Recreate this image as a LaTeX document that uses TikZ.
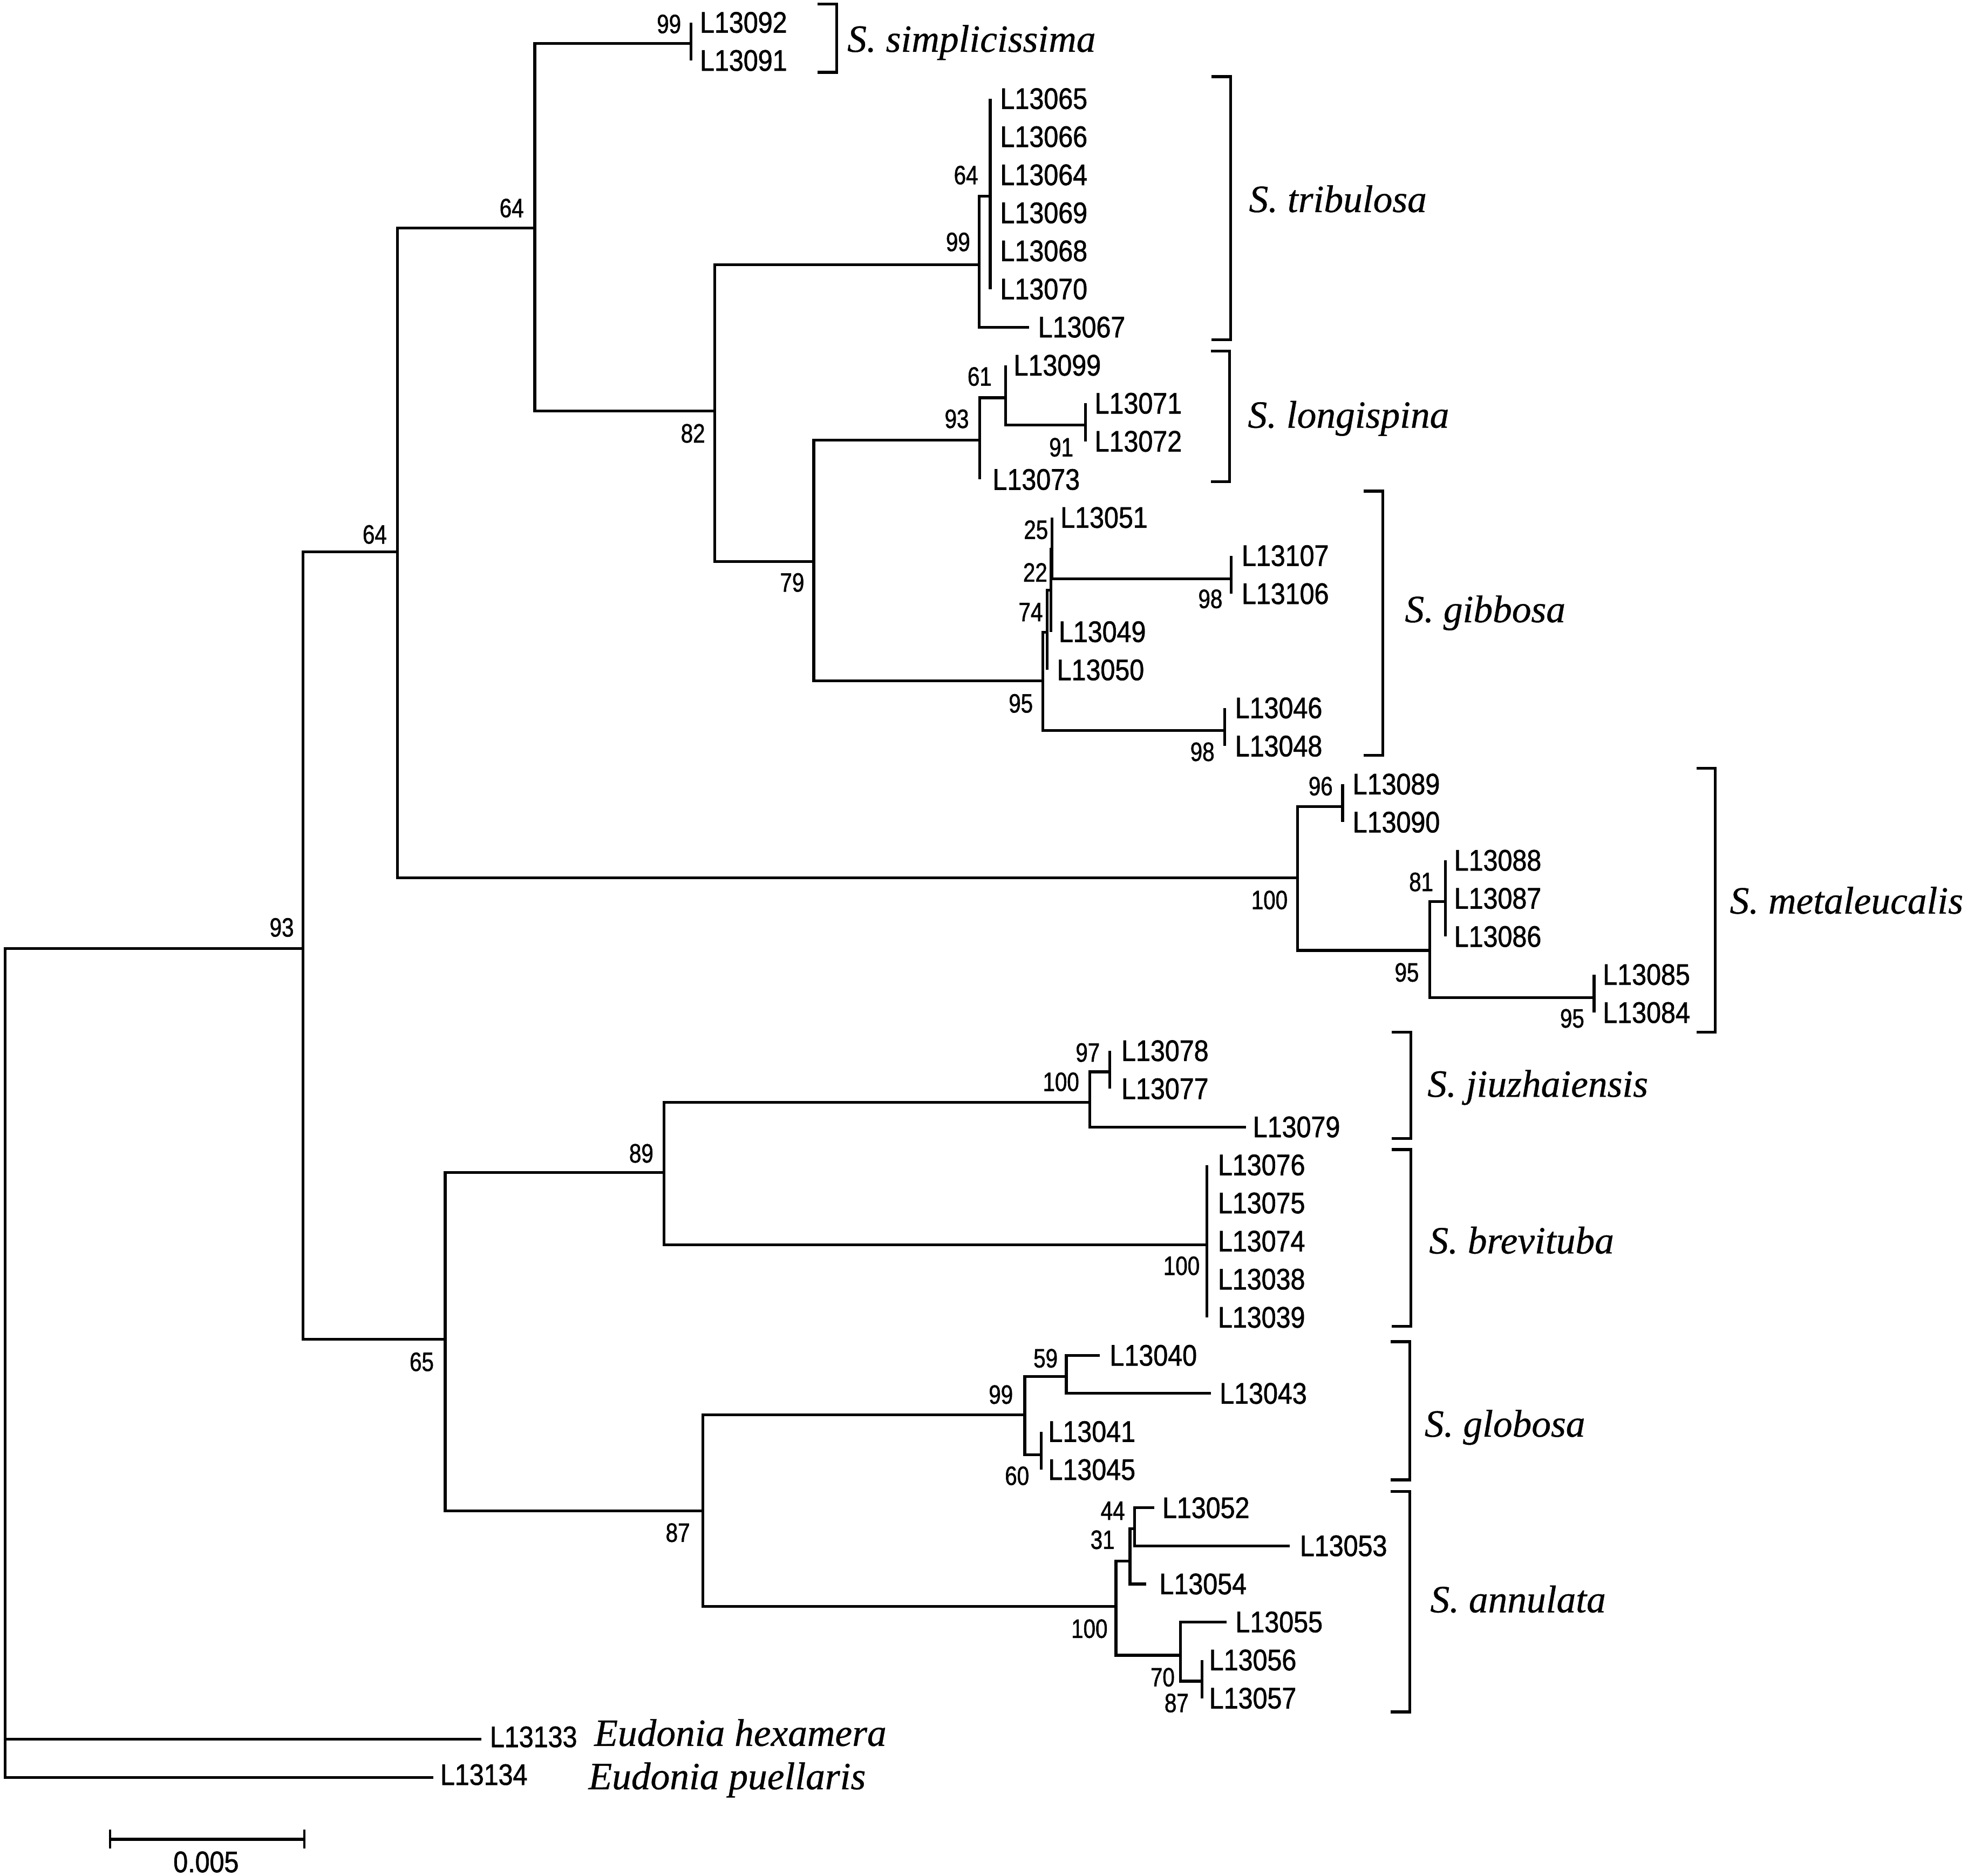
\documentclass[tikz,border=0pt]{standalone}
\usepackage{fontspec}
\newfontfamily\labfam[FakeStretch=0.88,FakeBold=1.2]{Liberation Sans}
\newfontfamily\bootfam[FakeStretch=0.82,FakeBold=1.2]{Liberation Sans}
\newfontfamily\spfam[FakeBold=0.6]{Liberation Serif}
\newcommand\fLeaf{\labfam\fontsize{23.5}{24}\selectfont}
\newcommand\fBoot{\bootfam\fontsize{21}{22}\selectfont}
\newcommand\fSp{\spfam\itshape\fontsize{30.5}{32}\selectfont}
\tikzset{
  edge/.style={line width=2.2pt, line join=miter},
  clade/.style={line width=2.3pt},
  leaflab/.style={anchor=west, inner sep=0pt, xshift=-1.5pt, font=\fLeaf},
  boot/.style={inner sep=0pt, font=\fBoot},
  sp/.style={anchor=base west, inner sep=0pt, font=\fSp}
}
\newcommand\mkleaf[4]{\coordinate (#1) at (#2,#3); \node[leaflab] (t#1) at (#4,#3) {#1};}
\newcommand\brk[3]{\draw[clade] ({#1-15},#2) -- (#1,#2) -- (#1,#3) -- ({#1-15},#3);}
\begin{document}
\begin{tikzpicture}[x=1pt,y=-1pt]
\useasboundingbox (0,0) rectangle (1568,1484.7);
% internal nodes
\coordinate (R) at (4,1376.5);
\coordinate (N93) at (240,750.5);
\coordinate (N64a) at (314.5,436.7);
\coordinate (N64b) at (423.3,180.4);
\coordinate (N99s) at (547.1,34.5);
\coordinate (N82) at (565.7,325.4);
\coordinate (N99t) at (775.2,209.5);
\coordinate (N64t) at (783.8,155.2);
\coordinate (N79) at (644.1,444.5);
\coordinate (N93l) at (775.4,348.5);
\coordinate (N61) at (795.8,314.8);
\coordinate (N91) at (859,336.2);
\coordinate (N95g) at (825.5,538.8);
\coordinate (N74) at (828.7,500.4);
\coordinate (N22) at (831.8,467);
\coordinate (N25) at (832.6,434.5);
\coordinate (N98a) at (974.5,458);
\coordinate (N98b) at (969.3,578.1);
\coordinate (N100m) at (1027.2,694.8);
\coordinate (N96) at (1062.7,638.2);
\coordinate (N95m) at (1131.8,752.2);
\coordinate (N81) at (1144.1,713.5);
\coordinate (N95n) at (1261.7,789.4);
\coordinate (N65) at (352.4,1059.8);
\coordinate (N89) at (525.4,928);
\coordinate (N100j) at (862.5,872.5);
\coordinate (N97) at (878.3,848.3);
\coordinate (N100b) at (955.2,985);
\coordinate (N87) at (556.4,1195.6);
\coordinate (N99g) at (811.1,1119.6);
\coordinate (N59) at (844,1089.4);
\coordinate (N60) at (824.1,1151.3);
\coordinate (N100a) at (883.3,1271.2);
\coordinate (N31) at (894.4,1235.4);
\coordinate (N44) at (898.2,1209.9);
\coordinate (N70) at (934.3,1310);
\coordinate (N87b) at (951.4,1330.5);
% leaves
\mkleaf{L13092}{547.1}{17.8}{555.3}
\mkleaf{L13091}{547.1}{47.9}{555.3}
\mkleaf{L13065}{783.8}{78.1}{793}
\mkleaf{L13066}{783.8}{108.2}{793}
\mkleaf{L13064}{783.8}{138.4}{793}
\mkleaf{L13069}{783.8}{168.5}{793}
\mkleaf{L13068}{783.8}{198.6}{793}
\mkleaf{L13070}{783.8}{228.8}{793}
\mkleaf{L13067}{814.4}{258.9}{823}
\mkleaf{L13099}{795.8}{289.1}{803.7}
\mkleaf{L13071}{859}{319.2}{867.8}
\mkleaf{L13072}{859}{349.3}{867.8}
\mkleaf{L13073}{775.4}{379.5}{787}
\mkleaf{L13051}{832.6}{409.6}{840.7}
\mkleaf{L13107}{974.5}{439.8}{984.1}
\mkleaf{L13106}{974.5}{469.9}{984.1}
\mkleaf{L13049}{831.8}{500.0}{839.3}
\mkleaf{L13050}{828.7}{530.2}{837.9}
\mkleaf{L13046}{969.3}{560.3}{978.9}
\mkleaf{L13048}{969.3}{590.5}{978.9}
\mkleaf{L13089}{1062.7}{620.6}{1072}
\mkleaf{L13090}{1062.7}{650.7}{1072}
\mkleaf{L13088}{1144.1}{680.9}{1152.3}
\mkleaf{L13087}{1144.1}{711.0}{1152.3}
\mkleaf{L13086}{1144.1}{741.2}{1152.3}
\mkleaf{L13085}{1261.7}{771.3}{1270}
\mkleaf{L13084}{1261.7}{801.4}{1270}
\mkleaf{L13078}{878.3}{831.6}{888.9}
\mkleaf{L13077}{878.3}{861.7}{888.9}
\mkleaf{L13079}{986.2}{891.9}{993}
\mkleaf{L13076}{955.2}{922.0}{965.3}
\mkleaf{L13075}{955.2}{952.1}{965.3}
\mkleaf{L13074}{955.2}{982.3}{965.3}
\mkleaf{L13038}{955.2}{1012.4}{965.3}
\mkleaf{L13039}{955.2}{1042.6}{965.3}
\mkleaf{L13040}{870.4}{1072.7}{879.7}
\mkleaf{L13043}{958.4}{1102.8}{966.7}
\mkleaf{L13041}{824.1}{1133.0}{831}
\mkleaf{L13045}{824.1}{1163.1}{831}
\mkleaf{L13052}{913.5}{1193.3}{921.3}
\mkleaf{L13053}{1020.8}{1223.4}{1030.2}
\mkleaf{L13054}{907.4}{1253.6}{919}
\mkleaf{L13055}{970.9}{1283.7}{979.2}
\mkleaf{L13056}{951.4}{1313.8}{958.4}
\mkleaf{L13057}{951.4}{1344.0}{958.4}
\coordinate (L13133) at (380.8,1376.5);
\node[leaflab] (tL13133) at (389.1,1374.6) {L13133};
\coordinate (L13134) at (342.8,1406.7);
\node[leaflab] (tL13134) at (349.8,1404.5) {L13134};
% branches
\draw[edge] (R) |- (N93) (R) |- (L13133) (R) |- (L13134);
\draw[edge] (N93) |- (N64a) (N93) |- (N65);
\draw[edge] (N64a) |- (N64b) (N64a) |- (N100m);
\draw[edge] (N64b) |- (N99s) (N64b) |- (N82);
\draw[edge] (N99s) |- (L13092) (N99s) |- (L13091);
\draw[edge] (N82) |- (N99t) (N82) |- (N79);
\draw[edge] (N99t) |- (N64t) (N99t) |- (L13067);
\draw[edge] (N64t) |- (L13065) (N64t) |- (L13070);
\draw[edge] (N79) |- (N93l) (N79) |- (N95g);
\draw[edge] (N93l) |- (N61) (N93l) |- (L13073);
\draw[edge] (N61) |- (L13099) (N61) |- (N91);
\draw[edge] (N91) |- (L13071) (N91) |- (L13072);
\draw[edge] (N95g) |- (N74) (N95g) |- (N98b);
\draw[edge] (N74) |- (N22) (N74) |- (L13050);
\draw[edge] (N22) |- (N25) (N22) |- (L13049);
\draw[edge] (N25) |- (L13051) (N25) |- (N98a);
\draw[edge] (N98a) |- (L13107) (N98a) |- (L13106);
\draw[edge] (N98b) |- (L13046) (N98b) |- (L13048);
\draw[edge] (N100m) |- (N96) (N100m) |- (N95m);
\draw[edge] (N96) |- (L13089) (N96) |- (L13090);
\draw[edge] (N95m) |- (N81) (N95m) |- (N95n);
\draw[edge] (N81) |- (L13088) (N81) |- (L13086);
\draw[edge] (N95n) |- (L13085) (N95n) |- (L13084);
\draw[edge] (N65) |- (N89) (N65) |- (N87);
\draw[edge] (N89) |- (N100j) (N89) |- (N100b);
\draw[edge] (N100j) |- (N97) (N100j) |- (L13079);
\draw[edge] (N97) |- (L13078) (N97) |- (L13077);
\draw[edge] (N100b) |- (L13076) (N100b) |- (L13039);
\draw[edge] (N87) |- (N99g) (N87) |- (N100a);
\draw[edge] (N99g) |- (N59) (N99g) |- (N60);
\draw[edge] (N59) |- (L13040) (N59) |- (L13043);
\draw[edge] (N60) |- (L13041) (N60) |- (L13045);
\draw[edge] (N100a) |- (N31) (N100a) |- (N70);
\draw[edge] (N31) |- (N44) (N31) |- (L13054);
\draw[edge] (N44) |- (L13052) (N44) |- (L13053);
\draw[edge] (N70) |- (L13055) (N70) |- (N87b);
\draw[edge] (N87b) |- (L13056) (N87b) |- (L13057);
% bootstrap values
\node[boot] (b01) at (529.5,19) {99};
\node[boot] (b02) at (405,164.7) {64};
\node[boot] (b03) at (296.6,423) {64};
\node[boot] (b04) at (223,734) {93};
\node[boot] (b05) at (548.5,343) {82};
\node[boot] (b06) at (764.6,138.6) {64};
\node[boot] (b07) at (758.3,191.5) {99};
\node[boot] (b08) at (775.4,298) {61};
\node[boot] (b09) at (757.3,331.5) {93};
\node[boot] (b10) at (840,354) {91};
\node[boot] (b11) at (627,461) {79};
\node[boot] (b12) at (820,419.3) {25};
\node[boot] (b13) at (819.4,453) {22};
\node[boot] (b14) at (815.8,484.4) {74};
\node[boot] (b15) at (808,556.7) {95};
\node[boot] (b16) at (958,474) {98};
\node[boot] (b17) at (951.7,595) {98};
\node[boot] (b18) at (1045.3,622.2) {96};
\node[boot] (b19) at (1004.8,712.3) {100};
\node[boot] (b20) at (1124.9,698) {81};
\node[boot] (b21) at (1113.5,769.6) {95};
\node[boot] (b22) at (1244.4,806) {95};
\node[boot] (b23) at (861,833) {97};
\node[boot] (b24) at (839.8,856.2) {100};
\node[boot] (b25) at (507.6,912.8) {89};
\node[boot] (b26) at (935.2,1001.8) {100};
\node[boot] (b27) at (333.8,1077.8) {65};
\node[boot] (b28) at (827.6,1075) {59};
\node[boot] (b29) at (792.2,1103.7) {99};
\node[boot] (b30) at (805,1168) {60};
\node[boot] (b31) at (880.8,1195.6) {44};
\node[boot] (b32) at (872.7,1218.6) {31};
\node[boot] (b33) at (862.3,1289) {100};
\node[boot] (b34) at (536.5,1213) {87};
\node[boot] (b35) at (920.2,1327.4) {70};
\node[boot] (b36) at (931.3,1347.8) {87};
% clade brackets
\brk{662.3}{3.2}{57.2}
\brk{974}{60.6}{268.9}
\brk{973.3}{277.8}{381.3}
\brk{1094.4}{388.7}{597.8}
\brk{1357.7}{608.1}{817}
\brk{1116.7}{816.8}{900.9}
\brk{1116.7}{909.7}{1049.6}
\brk{1115.8}{1061.8}{1171.1}
\brk{1115.8}{1180.3}{1354.9}
% species names
\node[sp] (s1) at (670.5,41) {S. simplicissima};
\node[sp] (s2) at (988.4,167.8) {S. tribulosa};
\node[sp] (s3) at (987.5,338.5) {S. longispina};
\node[sp] (s4) at (1111.8,492.4) {S. gibbosa};
\node[sp] (s5) at (1369,723) {S. metaleucalis};
\node[sp] (s6) at (1129.7,868) {S. jiuzhaiensis};
\node[sp] (s7) at (1131,992) {S. brevituba};
\node[sp] (s8) at (1127.4,1137) {S. globosa};
\node[sp] (s9) at (1131.9,1276) {S. annulata};
\node[sp] (s10) at (470.2,1381.7) {Eudonia hexamera};
\node[sp] (s11) at (465.6,1416) {Eudonia puellaris};
% scale bar
\coordinate (sbA) at (87.1,1455.8);
\coordinate (sbB) at (240.9,1455.8);
\draw[line width=2.6pt] (sbA) -- (sbB);
\draw[line width=1.6pt] (87.1,1448) -- (87.1,1463) (240.9,1448) -- (240.9,1463);
\node[inner sep=0pt, font=\fLeaf] (sbl) at (163.1,1473.6) {0.005};
\end{tikzpicture}
\end{document}
